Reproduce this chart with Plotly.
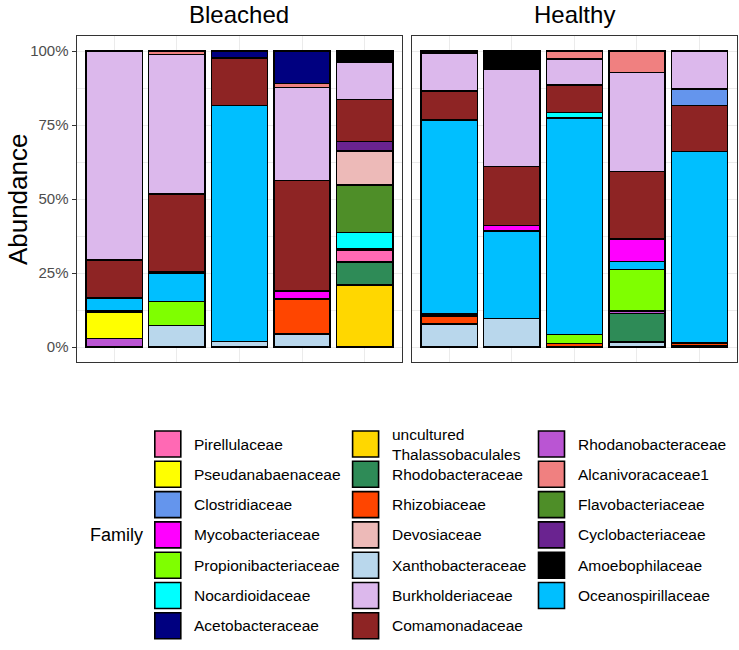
import plotly.graph_objects as go

# ---------------- data ----------------
samples = ["B1", "B2", "B3", "B4", "B5", "H1", "H2", "H3", "H4", "H5"]
facets = ["Bleached", "Healthy"]
facet_of_sample = ["Bleached"] * 5 + ["Healthy"] * 5

# abundance (%) per family, in the order of `samples`
acetobacteraceae = [0, 0, 2.4, 11.0, 0, 0, 0, 0, 0, 0]
alcanivoracaceae1 = [0, 1.2, 0, 1.4, 0, 0, 0, 2.7, 7.2, 0]
amoebophilaceae = [0, 0, 0, 0, 3.9, 0.8, 6.2, 0, 0, 0]
burkholderiaceae = [70.6, 47.1, 0, 31.4, 12.4, 12.7, 32.8, 8.8, 33.5, 12.8]
clostridiaceae = [0, 0, 0, 0, 0, 0, 0, 0, 0, 5.6]
comamonadaceae = [12.8, 26.3, 16.0, 37.2, 14.3, 9.8, 19.9, 9.3, 22.7, 15.6]
cyclobacteriaceae = [0, 0, 0, 0, 3.1, 0, 0, 0, 0, 0]
devosiaceae = [0, 0, 0, 0, 11.5, 0, 0, 0, 0, 0]
flavobacteriaceae = [0, 0, 0, 0, 16.0, 0, 0, 0, 0, 0]
mycobacteriaceae = [0, 0.5, 0, 2.8, 0, 0, 1.8, 0, 7.7, 0]
nocardioidaceae = [0, 0, 0, 0, 5.4, 0, 0, 1.9, 0, 0]
oceanospirillaceae = [4.2, 9.5, 79.6, 0, 0.6, 65.5, 29.6, 73.0, 2.7, 64.6]
pirellulaceae = [0.6, 0, 0, 0, 4.1, 0.6, 0, 0, 0, 0]
propionibacteriaceae = [0, 8.0, 0, 0, 0, 0, 0, 3.0, 14.0, 0]
pseudanabaenaceae = [8.8, 0, 0, 0, 0, 0, 0, 0, 0, 0]
rhizobiaceae = [0, 0, 0, 11.7, 0, 2.7, 0, 1.3, 0, 0.8]
rhodanobacteraceae = [3.0, 0, 0, 0, 0, 0, 0, 0, 0.8, 0]
rhodobacteraceae = [0, 0, 0, 0, 7.7, 0, 0, 0, 9.6, 0]
xanthobacteraceae = [0, 7.4, 2.0, 4.5, 0, 7.9, 9.7, 0, 1.8, 0.6]
uncultured_thalassobaculales = [0, 0, 0, 0, 21.0, 0, 0, 0, 0, 0]

# stacking order: top of bar first
stack_order = [
    ("Acetobacteraceae", acetobacteraceae),
    ("Alcanivoracaceae1", alcanivoracaceae1),
    ("Amoebophilaceae", amoebophilaceae),
    ("Burkholderiaceae", burkholderiaceae),
    ("Clostridiaceae", clostridiaceae),
    ("Comamonadaceae", comamonadaceae),
    ("Cyclobacteriaceae", cyclobacteriaceae),
    ("Devosiaceae", devosiaceae),
    ("Flavobacteriaceae", flavobacteriaceae),
    ("Mycobacteriaceae", mycobacteriaceae),
    ("Nocardioidaceae", nocardioidaceae),
    ("Oceanospirillaceae", oceanospirillaceae),
    ("Pirellulaceae", pirellulaceae),
    ("Propionibacteriaceae", propionibacteriaceae),
    ("Pseudanabaenaceae", pseudanabaenaceae),
    ("Rhizobiaceae", rhizobiaceae),
    ("Rhodanobacteraceae", rhodanobacteraceae),
    ("Rhodobacteraceae", rhodobacteraceae),
    ("Xanthobacteraceae", xanthobacteraceae),
    ("uncultured Thalassobaculales", uncultured_thalassobaculales),
]

# legend order (column-major, 3 columns)
legend_columns = [
    ["Pirellulaceae", "Pseudanabaenaceae", "Clostridiaceae", "Mycobacteriaceae",
     "Propionibacteriaceae", "Nocardioidaceae", "Acetobacteraceae"],
    ["uncultured Thalassobaculales", "Rhodobacteraceae", "Rhizobiaceae", "Devosiaceae",
     "Xanthobacteraceae", "Burkholderiaceae", "Comamonadaceae"],
    ["Rhodanobacteraceae", "Alcanivoracaceae1", "Flavobacteriaceae", "Cyclobacteriaceae",
     "Amoebophilaceae", "Oceanospirillaceae"],
]

tick_vals = [0, 25, 50, 75, 100]
tick_text = ["0%", "25%", "50%", "75%", "100%"]
minor_vals = [12.5, 37.5, 62.5, 87.5]

# ---------------- styles ----------------
colors = {
    "Pirellulaceae": "#FF69B4",
    "Pseudanabaenaceae": "#FFFF00",
    "Clostridiaceae": "#6495ED",
    "Mycobacteriaceae": "#FF00FF",
    "Propionibacteriaceae": "#7FFF00",
    "Nocardioidaceae": "#00FFFF",
    "Acetobacteraceae": "#000080",
    "uncultured Thalassobaculales": "#FFD700",
    "Rhodobacteraceae": "#2E8B57",
    "Rhizobiaceae": "#FF4500",
    "Devosiaceae": "#EDBAB8",
    "Xanthobacteraceae": "#B9D7EC",
    "Burkholderiaceae": "#DCB8EC",
    "Comamonadaceae": "#8E2424",
    "Rhodanobacteraceae": "#BA55D3",
    "Alcanivoracaceae1": "#F08080",
    "Flavobacteriaceae": "#4E8E28",
    "Cyclobacteriaceae": "#6A2390",
    "Amoebophilaceae": "#000000",
    "Oceanospirillaceae": "#00BFFF",
}
legend_labels = {"uncultured Thalassobaculales": "uncultured<br>Thalassobaculales"}

FONT = "Liberation Sans, Arial, Helvetica, sans-serif"
W, H = 739, 650
GRID = "#EBEBEB"
BORDER = "#333333"
LEG_TOP = 416  # pixel row where the legend area starts

fig = go.Figure()

# bars: plotly stacks first trace at the bottom
for name, vals in reversed(stack_order):
    for fi, facet in enumerate(facets):
        xs = [s for s, f in zip(samples, facet_of_sample) if f == facet]
        ys = [v for v, f in zip(vals, facet_of_sample) if f == facet]
        fig.add_trace(go.Bar(
            x=xs, y=ys, name=name,
            xaxis="x" if fi == 0 else "x2",
            yaxis="y" if fi == 0 else "y2",
            width=0.9,
            marker=dict(color=colors[name], line=dict(color="black", width=1.5)),
            showlegend=False, hoverinfo="x+y+name",
        ))

# manual legend (pixel-unit axis under the panels)
col_px = [167.8, 365.6, 551.5]
row0_px, row_step = 444.0, 30.3
lx, ly, lc, lt = [], [], [], []
for ci, col in enumerate(legend_columns):
    for ri, name in enumerate(col):
        lx.append(col_px[ci])
        ly.append(row0_px + ri * row_step)
        lc.append(colors[name])
        lt.append(name)
fig.add_trace(go.Scatter(
    x=lx, y=ly, xaxis="x3", yaxis="y3", mode="markers",
    marker=dict(symbol="square", size=26, color=lc, line=dict(color="black", width=1.6)),
    showlegend=False, hoverinfo="skip", cliponaxis=False,
))

annotations = []
for x, y, name in zip(lx, ly, lt):
    annotations.append(dict(
        x=x + 24.5, y=y, xref="x3", yref="y3", xanchor="left", yanchor="middle",
        text=legend_labels.get(name, name), showarrow=False, align="left",
        font=dict(size=15.5, color="black", family=FONT),
    ))
annotations.append(dict(
    x=88, y=535, xref="x3", yref="y3", xanchor="left", yanchor="middle",
    text="Family", showarrow=False, font=dict(size=18, color="black", family=FONT),
))

# facet strip titles
for fi, facet in enumerate(facets):
    annotations.append(dict(
        x=0.5, y=1 - 14.4 / H, xref=("x domain" if fi == 0 else "x2 domain"), yref="paper",
        xanchor="center", yanchor="middle", text=facet, showarrow=False,
        font=dict(size=24, color="black", family=FONT),
    ))

# y axis title
annotations.append(dict(
    x=18 / W, y=0.5, xref="paper", yref="y domain", xanchor="center", yanchor="middle",
    text="Abundance", textangle=-90, showarrow=False,
    font=dict(size=26, color="black", family=FONT),
))

y_dom = [1 - 362 / H, 1 - 36.2 / H]
x1_dom = [76.7 / W, 402.2 / W]
x2_dom = [411.8 / W, 737.0 / W]

common_x = dict(
    type="category", range=[-0.6, 4.6], showticklabels=False, ticks="",
    showgrid=True, gridcolor=GRID, gridwidth=1,
    showline=True, mirror=True, linecolor=BORDER, linewidth=1.3, zeroline=False,
    fixedrange=True,
)
common_y = dict(
    range=[-5, 105], tickvals=tick_vals, ticktext=tick_text,
    showgrid=True, gridcolor=GRID, gridwidth=1,
    minor=dict(tickvals=minor_vals, showgrid=True, gridcolor=GRID, gridwidth=0.6, ticks=""),
    showline=True, mirror=True, linecolor=BORDER, linewidth=1.3, zeroline=False,
    domain=y_dom, fixedrange=True,
)

fig.update_layout(
    width=W, height=H,
    margin=dict(l=0, r=0, t=0, b=0),
    paper_bgcolor="white", plot_bgcolor="rgba(0,0,0,0)",
    barmode="stack",
    showlegend=False,
    font=dict(family=FONT),
    xaxis=dict(domain=x1_dom, anchor="y", **common_x),
    xaxis2=dict(domain=x2_dom, anchor="y2", **common_x),
    yaxis=dict(anchor="x", ticks="outside", ticklen=4, tickcolor=BORDER, tickwidth=1.1,
               tickfont=dict(size=15, color="#4D4D4D", family=FONT), **common_y),
    yaxis2=dict(anchor="x2", matches="y", showticklabels=False, ticks="", **common_y),
    xaxis3=dict(domain=[0, 1], range=[0, W], visible=False, anchor="y3", fixedrange=True),
    yaxis3=dict(domain=[0, 1 - LEG_TOP / H], range=[H, LEG_TOP], visible=False,
                anchor="x3", fixedrange=True),
    annotations=annotations,
)

fig.write_html("out.html", config={"displayModeBar": False},
               post_script="document.body.style.margin='0';")
